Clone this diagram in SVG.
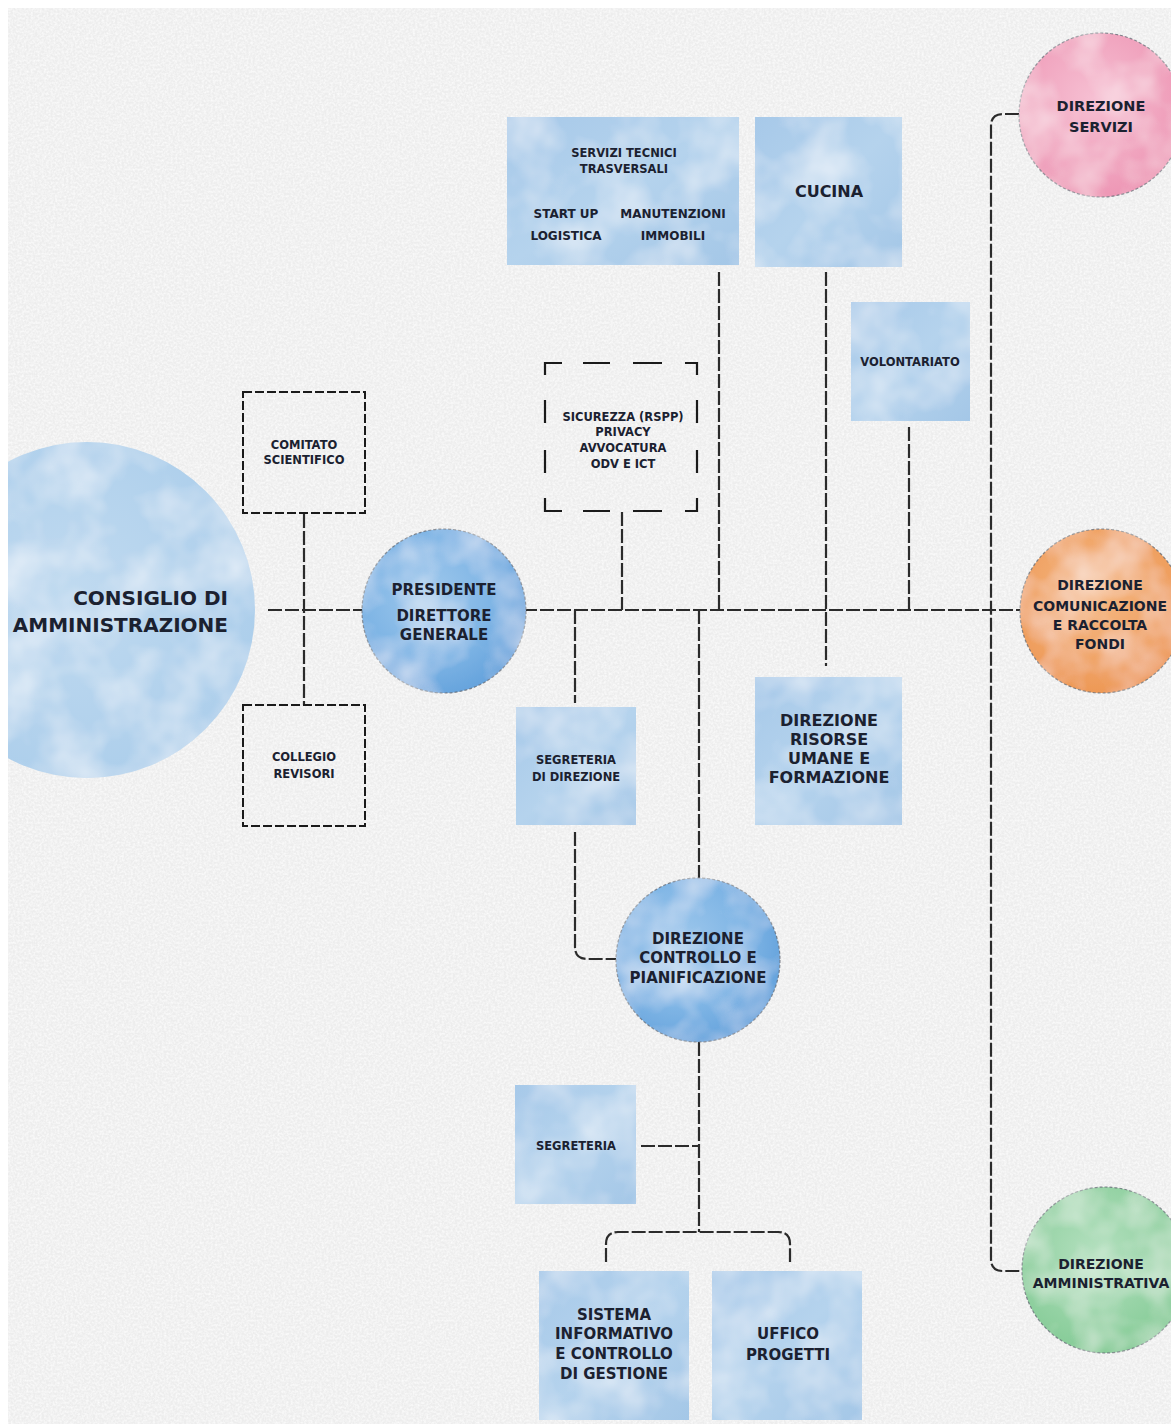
<svg xmlns="http://www.w3.org/2000/svg" width="1171" height="1427" viewBox="0 0 1171 1427">
<defs>
<style>
.t{font-family:"DejaVu Sans","Liberation Sans",sans-serif;font-weight:700;fill:#1b2130;text-anchor:middle}
.ln{fill:none;stroke:#2b2b2b;stroke-width:2.2;stroke-dasharray:14 3}
.db{fill:none;stroke:#1a1a1a;stroke-width:2;stroke-dasharray:9 3}
.ds{fill:none;stroke:#1a1a1a;stroke-width:2.2}
.edge{stroke:#5f6670;stroke-width:1.2;stroke-dasharray:3 2;stroke-opacity:0.75}
.box{fill:url(#gBox);filter:url(#wc)}
</style>
<clipPath id="paperClip"><rect x="8" y="8" width="1163" height="1416"/></clipPath>
<filter id="grain" x="0" y="0" width="100%" height="100%">
<feTurbulence type="fractalNoise" baseFrequency="0.45" numOctaves="2" seed="5"/>
<feColorMatrix type="matrix" values="0 0 0 0 1  0 0 0 0 1  0 0 0 0 1  1.4 0 0 0 -0.45"/>
</filter>
<filter id="wc" x="-5%" y="-5%" width="110%" height="110%">
<feTurbulence type="fractalNoise" baseFrequency="0.02" numOctaves="3" seed="2" result="t"/>
<feColorMatrix in="t" type="matrix" values="0 0 0 0 1  0 0 0 0 1  0 0 0 0 1  0.9 0 0 0 -0.33" result="w"/>
<feComposite in="w" in2="SourceGraphic" operator="in" result="wi"/>
<feMerge><feMergeNode in="SourceGraphic"/><feMergeNode in="wi"/></feMerge>
</filter>
<linearGradient id="gBox" x1="0" y1="0" x2="1" y2="1">
<stop offset="0" stop-color="#a7c9e9"/>
<stop offset="0.5" stop-color="#b5d3ed"/>
<stop offset="1" stop-color="#a4c7e7"/>
</linearGradient>
<radialGradient id="gCda" cx="0.45" cy="0.45" r="0.6">
<stop offset="0" stop-color="#c0daf0"/>
<stop offset="1" stop-color="#acceeb"/>
</radialGradient>
<radialGradient id="gBlue" cx="0.4" cy="0.4" r="0.65">
<stop offset="0" stop-color="#9fc8ec"/>
<stop offset="0.6" stop-color="#7fb5e5"/>
<stop offset="1" stop-color="#64a2dc"/>
</radialGradient>
<radialGradient id="gPink" cx="0.45" cy="0.4" r="0.65">
<stop offset="0" stop-color="#f6bfd2"/>
<stop offset="1" stop-color="#ed94b3"/>
</radialGradient>
<radialGradient id="gOrange" cx="0.45" cy="0.4" r="0.65">
<stop offset="0" stop-color="#f5b985"/>
<stop offset="1" stop-color="#ed9652"/>
</radialGradient>
<radialGradient id="gGreen" cx="0.45" cy="0.4" r="0.65">
<stop offset="0" stop-color="#b4e0bf"/>
<stop offset="1" stop-color="#82ca94"/>
</radialGradient>
</defs>

<rect x="0" y="0" width="1171" height="1427" fill="#ffffff"/>
<rect x="8" y="8" width="1163" height="1416" fill="#ededed"/>
<rect x="8" y="8" width="1163" height="1416" fill="#fff" filter="url(#grain)"/>

<g clip-path="url(#paperClip)">
<g id="connectors">
<path class="ln" d="M268 610 H1021"/>
<path class="ln" d="M304 514 V705"/>
<path class="ln" d="M622 512 V610"/>
<path class="ln" d="M719 272 V610"/>
<path class="ln" d="M826 272 V666"/>
<path class="ln" d="M909 427 V610"/>
<path class="ln" d="M1019 114 H1003 Q991 114 991 126 V1259 Q991 1271 1003 1271 H1022"/>
<path class="ln" d="M575 610 V703"/>
<path class="ln" d="M575 832 V947 Q575 959 587 959 H616"/>
<path class="ln" d="M699 610 V878"/>
<path class="ln" d="M699 1042 V1232"/>
<path class="ln" d="M641 1146 H699"/>
<path class="ln" d="M606 1262 V1244 Q606 1232 618 1232 H778 Q790 1232 790 1244 V1262"/>
</g>

<g id="consiglio">
<circle cx="87" cy="610" r="168" fill="url(#gCda)" filter="url(#wc)"/>
<text class="t" font-size="20" style="text-anchor:end" x="228" y="605">CONSIGLIO DI</text>
<text class="t" font-size="20" style="text-anchor:end" x="228" y="632">AMMINISTRAZIONE</text>
</g>

<g id="comitato">
<rect class="db" x="243" y="392" width="122" height="121"/>
<text class="t" font-size="11.5" x="304" y="449">COMITATO</text>
<text class="t" font-size="11.5" x="304" y="464">SCIENTIFICO</text>
</g>

<g id="collegio">
<rect class="db" x="243" y="705" width="122" height="121"/>
<text class="t" font-size="11.5" x="304" y="761">COLLEGIO</text>
<text class="t" font-size="11.5" x="304" y="778">REVISORI</text>
</g>

<g id="presidente">
<circle class="edge" cx="444" cy="611" r="82" fill="url(#gBlue)" filter="url(#wc)"/>
<text class="t" font-size="15" x="444" y="594.5">PRESIDENTE</text>
<text class="t" font-size="15" x="444" y="620.5">DIRETTORE</text>
<text class="t" font-size="15" x="444" y="639.5">GENERALE</text>
</g>

<g id="sicurezza">
<path class="ds" d="M545 375 V363 H562 M583 363 H610 M633 363 H662 M685 363 H697 V375 M697 400 V423 M697 450 V473 M697 498 V511 H685 M662 511 H633 M610 511 H583 M562 511 H545 V498 M545 473 V450 M545 423 V400"/>
<text class="t" font-size="11.5" x="623" y="421">SICUREZZA (RSPP)</text>
<text class="t" font-size="11.5" x="623" y="436">PRIVACY</text>
<text class="t" font-size="11.5" x="623" y="452">AVVOCATURA</text>
<text class="t" font-size="11.5" x="623" y="468">ODV E ICT</text>
</g>

<g id="servizi-tecnici">
<rect class="box" x="507" y="117" width="232" height="148"/>
<text class="t" font-size="11.5" x="624" y="157">SERVIZI TECNICI</text>
<text class="t" font-size="11.5" x="624" y="173">TRASVERSALI</text>
<text class="t" font-size="12" x="566" y="218">START UP</text>
<text class="t" font-size="12" x="673" y="218">MANUTENZIONI</text>
<text class="t" font-size="12" x="566" y="240">LOGISTICA</text>
<text class="t" font-size="12" x="673" y="240">IMMOBILI</text>
</g>

<g id="cucina">
<rect class="box" x="755" y="117" width="147" height="150"/>
<text class="t" font-size="16" x="829" y="197">CUCINA</text>
</g>

<g id="volontariato">
<rect class="box" x="851" y="302" width="119" height="119"/>
<text class="t" font-size="11.5" x="910" y="366">VOLONTARIATO</text>
</g>

<g id="direzione-servizi">
<circle class="edge" cx="1101" cy="115" r="82" fill="url(#gPink)" filter="url(#wc)"/>
<text class="t" font-size="14.5" x="1101" y="111">DIREZIONE</text>
<text class="t" font-size="14.5" x="1101" y="132">SERVIZI</text>
</g>

<g id="direzione-comunicazione">
<circle class="edge" cx="1102" cy="611" r="82" fill="url(#gOrange)" filter="url(#wc)"/>
<text class="t" font-size="14" x="1100" y="590">DIREZIONE</text>
<text class="t" font-size="14" x="1100" y="611">COMUNICAZIONE</text>
<text class="t" font-size="14" x="1100" y="630">E RACCOLTA</text>
<text class="t" font-size="14" x="1100" y="649">FONDI</text>
</g>

<g id="risorse-umane">
<rect class="box" x="755" y="677" width="147" height="148"/>
<text class="t" font-size="16" x="829" y="726">DIREZIONE</text>
<text class="t" font-size="16" x="829" y="745">RISORSE</text>
<text class="t" font-size="16" x="829" y="764">UMANE E</text>
<text class="t" font-size="16" x="829" y="783">FORMAZIONE</text>
</g>

<g id="segreteria-direzione">
<rect class="box" x="516" y="707" width="120" height="118"/>
<text class="t" font-size="11.5" x="576" y="764">SEGRETERIA</text>
<text class="t" font-size="11.5" x="576" y="781">DI DIREZIONE</text>
</g>

<g id="direzione-controllo">
<circle class="edge" cx="698" cy="960" r="82" fill="url(#gBlue)" filter="url(#wc)"/>
<text class="t" font-size="15" x="698" y="943.5">DIREZIONE</text>
<text class="t" font-size="15" x="698" y="962.5">CONTROLLO E</text>
<text class="t" font-size="15" x="698" y="982.5">PIANIFICAZIONE</text>
</g>

<g id="segreteria">
<rect class="box" x="515" y="1085" width="121" height="119"/>
<text class="t" font-size="11.5" x="576" y="1150">SEGRETERIA</text>
</g>

<g id="direzione-amministrativa">
<circle class="edge" cx="1105" cy="1270" r="83" fill="url(#gGreen)" filter="url(#wc)"/>
<text class="t" font-size="14" x="1101" y="1269">DIREZIONE</text>
<text class="t" font-size="14" x="1101" y="1288">AMMINISTRATIVA</text>
</g>

<g id="sistema-informativo">
<rect class="box" x="539" y="1271" width="150" height="149"/>
<text class="t" font-size="15" x="614" y="1319.5">SISTEMA</text>
<text class="t" font-size="15" x="614" y="1338.5">INFORMATIVO</text>
<text class="t" font-size="15" x="614" y="1358.5">E CONTROLLO</text>
<text class="t" font-size="15" x="614" y="1378.5">DI GESTIONE</text>
</g>

<g id="ufficio-progetti">
<rect class="box" x="712" y="1271" width="150" height="149"/>
<text class="t" font-size="15" x="788" y="1338.5">UFFICO</text>
<text class="t" font-size="15" x="788" y="1359.5">PROGETTI</text>
</g>
</g>
</svg>
